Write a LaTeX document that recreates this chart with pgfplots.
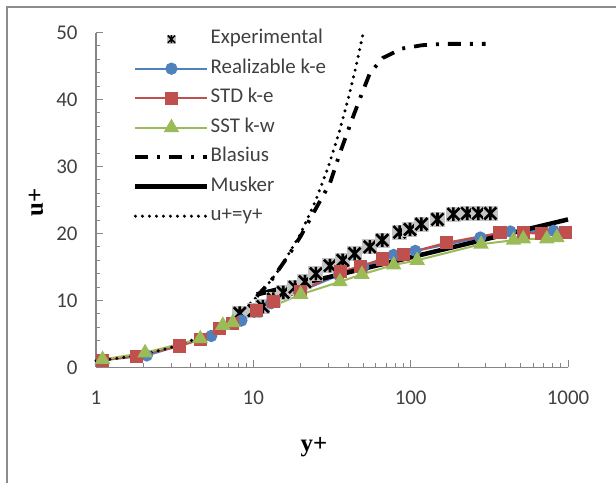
\documentclass[border=0pt]{standalone}
\usepackage{pgfplots}
\pgfplotsset{compat=1.18}
\usepackage{fontspec}
\setmainfont{Carlito}
\newfontfamily\serifbold{Liberation Serif}
\definecolor{rblue}{HTML}{4F81BD}
\definecolor{rred}{HTML}{C0504D}
\definecolor{rgreen}{HTML}{9BBB59}
\definecolor{axisgray}{HTML}{868686}
\definecolor{framegray}{HTML}{8C8C8C}
\definecolor{txtgray}{HTML}{404040}
\definecolor{boxgray}{HTML}{C4C4C4}
\pgfdeclareplotmark{exstar}{%
  \pgfscope
  \pgfpathrectangle{\pgfpoint{-\pgfplotmarksize}{-\pgfplotmarksize}}{\pgfpoint{2\pgfplotmarksize}{2\pgfplotmarksize}}%
  \pgfsetfillcolor{boxgray}\pgfusepath{fill}%
  \pgfsetstrokecolor{black}%
  \pgfpathmoveto{\pgfpoint{-0.8\pgfplotmarksize}{-0.8\pgfplotmarksize}}%
  \pgfpathlineto{\pgfpoint{0.8\pgfplotmarksize}{0.8\pgfplotmarksize}}%
  \pgfpathmoveto{\pgfpoint{-0.8\pgfplotmarksize}{0.8\pgfplotmarksize}}%
  \pgfpathlineto{\pgfpoint{0.8\pgfplotmarksize}{-0.8\pgfplotmarksize}}%
  \pgfpathmoveto{\pgfpoint{0pt}{-0.9\pgfplotmarksize}}%
  \pgfpathlineto{\pgfpoint{0pt}{0.9\pgfplotmarksize}}%
  \pgfusepath{stroke}%
  \endpgfscope
}
\begin{document}
\begin{tikzpicture}
\path[use as bounding box] (0bp,0bp) rectangle (616bp,483bp);
\draw[framegray, line width=2bp] (7bp,-20bp) -- (7bp,476bp) -- (640bp,476bp);
\begin{axis}[
  at={(96bp,115.5bp)}, anchor=south west,
  scale only axis, width=472bp, height=335bp,
  xmode=log, xmin=1, xmax=1000, ymin=0, ymax=50,
  axis x line*=bottom, axis y line*=left,
  axis line style={draw=axisgray, line width=1.3bp},
  tick align=inside, major tick length=7bp, minor tick length=4.5bp,
  every tick/.style={draw=axisgray, line width=1bp},
  xtick={1,10,100,1000}, xticklabels={1,10,100,1000},
  minor xtick={2,3,4,5,6,7,8,9,20,30,40,50,60,70,80,90,200,300,400,500,600,700,800,900},
  ytick={0,10,20,30,40,50},
  minor ytick={2,4,6,8,12,14,16,18,22,24,26,28,32,34,36,38,42,44,46,48},
  /pgf/number format/assume math mode=true,
  tick label style={font=\fontsize{21}{25}\selectfont, text=txtgray},
  xticklabel style={yshift=-20bp},
  yticklabel style={xshift=-15bp},
  clip=false,
  legend cell align=left,
  legend style={at={(axis description cs:0.0784,1.009)}, anchor=north west,
    draw=none, fill=none, inner sep=0pt, row sep=10.5bp, column sep=1bp,
    font=\fontsize{21}{25}\selectfont, text=txtgray,
    nodes={inner sep=0pt, text height=14bp, text depth=5bp}},
  legend image code/.code={\draw[mark repeat=2,mark phase=2,#1] plot coordinates {(0bp,0bp) (36bp,0bp) (72bp,0bp)};},
]
\addplot[only marks, mark=exstar, mark size=7.5bp, line width=2.6bp,
  legend image post style={mark size=4.5bp, line width=1.5bp}] coordinates {
(8.2,8.1) (10.1,8.5) (11.5,9.1) (13.4,10.2) (15.5,11.2) (18.4,12.0) (21.3,12.8)
(25,14.0) (30.7,15.2) (37,16.0) (44,17.0) (55,18.0) (66,19.0) (85,20.2)
(99,20.6) (117,21.4) (148,22.1) (187,22.9) (229,23.0) (269,23.0) (321,23.0)
};
\addlegendentry{Experimental}
\addplot[rblue, line width=2.2bp, mark=*, mark size=5bp, mark options={fill=rblue, draw=rblue, solid}] coordinates {
(1.1,1.1) (2.1,1.8) (5.4,4.7) (8.4,7.0) (13,9.6) (20,11.4) (35,13.8) (50,15.0)
(78,16.8) (107,17.4) (277,19.4) (430,20.3) (810,20.4)
};
\addlegendentry{Realizable k-e}
\addplot[rred, line width=2.2bp, mark=square*, mark size=5.5bp, mark options={fill=rred, draw=rred, solid}] coordinates {
(1.1,1.1) (1.8,1.7) (3.4,3.2) (4.6,4.2) (6.1,5.8) (7.4,6.6) (10.5,8.5) (13.5,9.9)
(20,11.4) (36,14.3) (48,15.1) (66,16.2) (90,16.9) (168,18.6) (370,20.1) (520,20.1)
(680,20.0) (960,20.2)
};
\addlegendentry{STD k-e}
\addplot[rgreen, line width=2bp, mark=triangle*, mark size=7bp, mark options={fill=rgreen, draw=rgreen, solid}] coordinates {
(1.1,1.2) (2.05,2.2) (4.6,4.3) (6.4,6.3) (7.4,6.7) (20,10.9) (35.5,12.8) (49,13.9)
(78,15.3) (110,16.0) (280,18.4) (450,19.0) (520,19.2) (733,19.2) (850,19.4)
};
\addlegendentry{SST k-w}
\addplot[black, line width=3.8bp, dash pattern=on 13bp off 9bp on 3bp off 9bp] coordinates {
(10.5,10.6) (13,13) (16.6,16.6) (20,19.6) (24,23.0) (30.7,27.5) (35.5,32) (43,37.4)
(49,40.9) (55,43.9) (66.5,46.2) (88,47.6) (118,48.1) (162,48.3) (218,48.3) (300,48.3)
};
\addlegendentry{Blasius}
\addplot[black, line width=4.5bp] coordinates {
(10.5,10.9) (1000,22.1)
};
\addlegendentry{Musker}
\addplot[black, line width=3.4bp, line cap=round, dash pattern=on 0bp off 7bp] coordinates {
(1,1) (1.25,1.25) (1.5,1.5) (2,2) (2.5,2.5) (3,3) (4,4) (5,5) (6,6) (7,7) (8,8)
(10,10) (12,12) (15,15) (20,20) (25,25) (30,30) (35,35) (40,40) (45,45) (50,50)
};
\addlegendentry{u+=y+}
\end{axis}
\node[font=\serifbold\bfseries\fontsize{25}{30}\selectfont, inner sep=0pt] at (314bp,36bp) {y+};
\node[font=\serifbold\bfseries\fontsize{25}{30}\selectfont, inner sep=0pt, rotate=90] at (36bp,281bp) {u+};
\end{tikzpicture}
\end{document}
